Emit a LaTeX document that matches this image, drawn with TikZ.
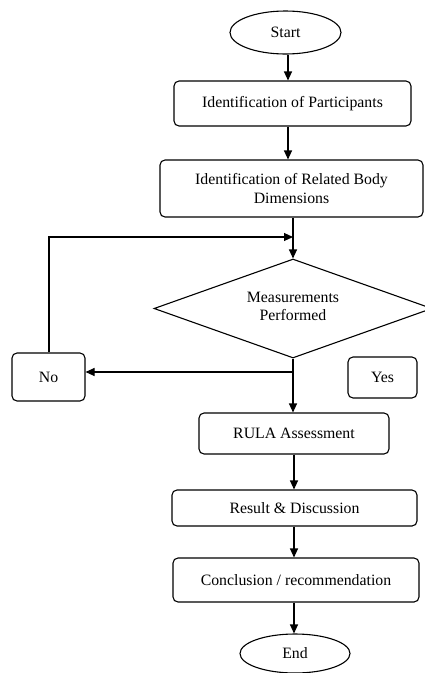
\documentclass[tikz,border=0pt]{standalone}
\usepackage{fontspec}
\setmainfont{Liberation Serif}
\usetikzlibrary{arrows.meta,shapes.geometric}
\begin{document}
\begin{tikzpicture}[x=1pt,y=-1pt,
  every node/.style={font=\fontsize{15.8}{18.5}\selectfont, inner sep=0pt, align=center},
  box/.style={draw, line width=1.1pt, rounded corners=5pt},
  oval/.style={draw, ellipse, line width=1.1pt},
  arr/.style={line width=1.1pt, -{Triangle[length=9pt,width=8pt]}},
  ln/.style={line width=1.1pt}]
\useasboundingbox (0,0) rectangle (425,673);
\node[oval, minimum width=111pt, minimum height=43pt] (start) at (285.5,32.5) {Start};
\node[box, minimum width=237pt, minimum height=45pt] (p1) at (292.5,103.5) {Identification of Participants};
\node[box, minimum width=263pt, minimum height=57pt] (p2) at (291.5,188.5) {Identification of Related Body\\Dimensions};
\node[diamond, draw, line width=1.1pt, minimum width=278pt, minimum height=99pt, aspect=2.8] (dec) at (293,308.5) {};
\node (dectxt) at (293,306.5) {Measurements\\Performed};
\node[box, minimum width=73pt, minimum height=48pt] (no) at (48.5,377) {No};
\node[box, minimum width=69pt, minimum height=41pt] (yes) at (382.5,377.5) {Yes};
\node[box, minimum width=190pt, minimum height=41pt] (rula) at (294,433.5) {RULA Assessment};
\node[box, minimum width=245pt, minimum height=36pt] (res) at (294.5,508) {Result \& Discussion};
\node[box, minimum width=246pt, minimum height=44pt] (conc) at (296,580) {Conclusion / recommendation};
\node[oval, minimum width=110pt, minimum height=39pt] (end) at (295,653.5) {End};
\coordinate (loopc) at (49,237);
\coordinate (loopt) at (293,237);
\coordinate (split) at (293,372);
\draw[arr] (start.south -| 288,0) -- (p1.north -| 288,0);
\draw[arr] (p1.south -| 288,0) -- (p2.north -| 288,0);
\draw[arr] (p2.south -| dec.north) -- (dec.north);
\draw[arr] (no.north -| loopc) -- (loopc) -- (loopt);
\draw[arr] (dec.south) -- (rula.north -| dec.south);
\draw[arr] (split) -- (no.east |- split);
\draw[arr] (rula.south -| 294,0) -- (res.north -| 294,0);
\draw[arr] (res.south -| 294,0) -- (conc.north -| 294,0);
\draw[arr] (conc.south -| 294,0) -- (end.north -| 294,0);
\end{tikzpicture}
\end{document}
